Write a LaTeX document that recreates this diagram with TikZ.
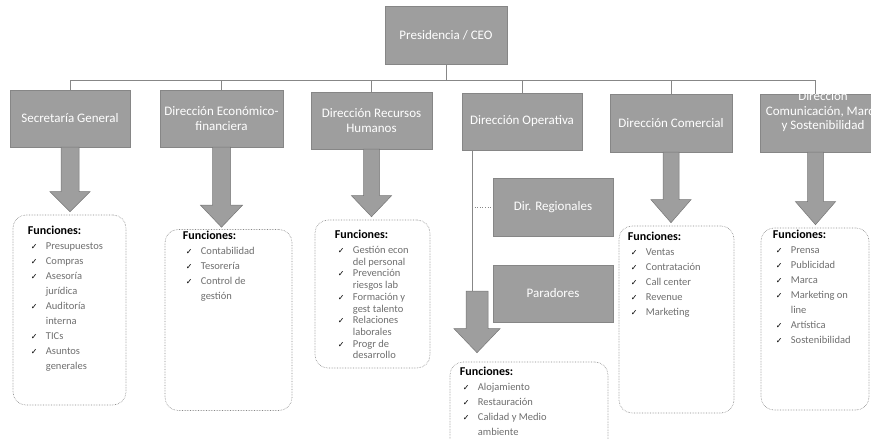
\documentclass[tikz,border=0pt]{standalone}
\usepackage{fontspec}
\setmainfont{Carlito}
\newfontfamily\symf{DejaVu Sans}
\usetikzlibrary{calc}
\definecolor{boxg}{RGB}{158,158,158}
\definecolor{linec}{RGB}{135,135,135}
\definecolor{itemc}{RGB}{110,110,110}
\newcommand{\ck}{\hspace*{3pt}\makebox[15pt][l]{\textcolor{black}{\symf\fontsize{8}{8}\selectfont ✓}}}
\newcommand{\cn}{\hspace*{3pt}\makebox[15pt][l]{}}
\newcommand{\fnt}{{\color{black}\bfseries\fontsize{12}{14}\selectfont Funciones:}}
% fat arrow: start anchor, target anchor, gap, shaft half, head half, head length
\newcommand{\fatarrow}[6]{%
  \draw[fatarr] let \p1=(#1), \p2=(#2) in
   (\x1-#4pt,\y1) -- (\x1-#4pt,\y2+#3pt+#6pt) -- (\x1-#5pt,\y2+#3pt+#6pt) -- (\x1,\y2+#3pt)
   -- (\x1+#5pt,\y2+#3pt+#6pt) -- (\x1+#4pt,\y2+#3pt+#6pt) -- (\x1+#4pt,\y1) -- cycle;}
\begin{document}
\begin{tikzpicture}[x=1pt,y=-1pt,
  orgbox/.style={draw=boxg!85!black, line width=0.4pt, fill=boxg, text=white,
    font=\fontsize{13}{15}\selectfont, align=center, inner sep=0pt},
  orgtext/.style={text=white, font=\fontsize{13}{14.5}\selectfont, align=center, inner sep=0pt},
  funbox/.style={draw=linec, densely dotted, line width=0.6pt, rounded corners=13pt, inner sep=0pt},
  funtext/.style={anchor=north west, align=left, inner sep=0pt, text=itemc,
    font=\fontsize{10.5}{15}\selectfont},
  conn/.style={draw=linec, line width=0.6pt},
  fatarr/.style={fill=boxg, draw=boxg!75!black, line width=0.5pt}]
\useasboundingbox (0,0) rectangle (871,439);

% organisation boxes
\node[orgbox, minimum width=122, minimum height=58] (pres) at (446,35) {Presidencia / CEO};
\node[orgbox, minimum width=120, minimum height=57] (sec) at (70,118.5) {Secretaría General};
\node[orgbox, minimum width=123, minimum height=57] (eco) at (221.5,118.5) {Dirección Económico-\\financiera};
\node[orgbox, minimum width=121, minimum height=57] (rh) at (371.5,120.5) {Dirección Recursos\\Humanos};
\node[orgbox, minimum width=120, minimum height=57] (ope) at (522,121.5) {Dirección Operativa};
\node[orgbox, minimum width=122, minimum height=58] (com) at (671,123) {Dirección Comercial};
\node[orgbox, minimum width=111, minimum height=58] (cmc) at (815.5,123) {};
\node[orgtext] (cmct) at (823,112) {Dirección\\Comunicación, Marca\\y Sostenibilidad};
\node[orgbox, minimum width=120, minimum height=58] (reg) at (553,207) {Dir. Regionales};
\node[orgbox, minimum width=120, minimum height=57] (par) at (553,293.5) {Paradores};

% functions boxes
\node[funbox, minimum width=113, minimum height=190] (fsec) at (69.5,310) {};
\node[funbox, minimum width=127, minimum height=181] (feco) at (228.5,320) {};
\node[funbox, minimum width=115, minimum height=148] (frh) at (372.5,294) {};
\node[funbox, minimum width=158, minimum height=98] (fope) at (529,411) {};
\node[funbox, minimum width=115, minimum height=187] (fcom) at (676.5,319.5) {};
\node[funbox, minimum width=108, minimum height=182] (fcmc) at (815,319) {};

% connectors
\coordinate (bus) at (0,80);
\draw[conn] (pres.south) -- (pres.south |- bus);
\draw[conn] (sec.north) |- (cmc.north |- bus) -- (cmc.north);
\foreach \n in {eco,rh,ope,com} \draw[conn] (\n.north) -- (\n.north |- bus);
\coordinate (opl) at (472,291);
\coordinate (opa) at (477,291);
\draw[conn] (opl |- ope.south) -- (opl);
\draw[conn, dotted] (opl |- reg.west) -- (reg.west);

% fat arrows
\fatarrow{sec.south}{fsec.north}{3}{9}{20}{20}
\fatarrow{eco.south}{feco.north}{2}{9}{21}{22}
\fatarrow{rh.south}{frh.north}{3}{8}{20}{21}
\fatarrow{opa}{fope.north}{9}{11}{23}{24}
\fatarrow{com.south}{fcom.north}{3}{8}{20}{23}
\fatarrow{cmc.south}{fcmc.north}{3}{8}{20}{23}

% functions texts
\node[funtext] (tsec) at ($(fsec.north west)+(15,11)$) {\fnt\\
 \ck Presupuestos\\ \ck Compras\\ \ck Asesoría\\ \cn jurídica\\ \ck Auditoría\\ \cn interna\\
 \ck TICs\\ \ck Asuntos\\ \cn generales};
\node[funtext] (teco) at ($(feco.north west)+(18,2)$) {\fnt\\
 \ck Contabilidad\\ \ck Tesorería\\ \ck Control de\\ \cn gestión};
\node[funtext, font=\fontsize{10.5}{11.7}\selectfont] (trh) at ($(frh.north west)+(20,10)$) {\fnt\\[3.5pt]
 \ck Gestión econ\\ \cn del personal\\ \ck Prevención\\ \cn riesgos lab\\ \ck Formación y\\ \cn gest talento\\
 \ck Relaciones\\ \cn laborales\\ \ck Progr de\\ \cn desarrollo};
\node[funtext] (tope) at ($(fope.north west)+(10,5)$) {\fnt\\
 \ck Alojamiento\\ \ck Restauración\\ \ck Calidad y Medio\\ \cn ambiente};
\node[funtext] (tcom) at ($(fcom.north west)+(9,6)$) {\fnt\\
 \ck Ventas\\ \ck Contratación\\ \ck Call center\\ \ck Revenue\\ \ck Marketing};
\node[funtext] (tcmc) at ($(fcmc.north west)+(12,2)$) {\fnt\\
 \ck Prensa\\ \ck Publicidad\\ \ck Marca\\ \ck Marketing on\\ \cn line\\ \ck Artística\\ \ck Sostenibilidad};
\end{tikzpicture}
\end{document}
